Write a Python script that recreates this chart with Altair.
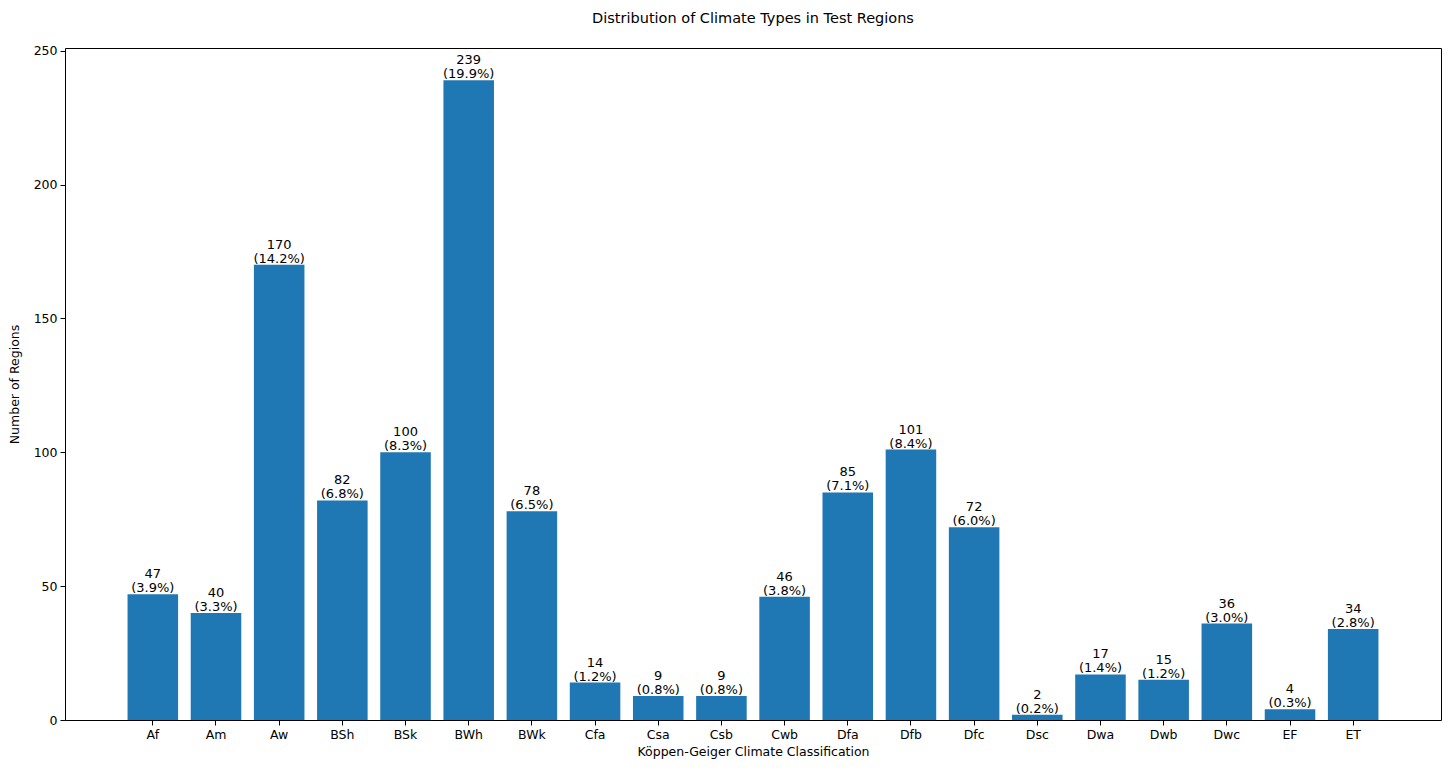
import altair as alt
import pandas as pd

categories = ["Af", "Am", "Aw", "BSh", "BSk", "BWh", "BWk", "Cfa", "Csa", "Csb",
              "Cwb", "Dfa", "Dfb", "Dfc", "Dsc", "Dwa", "Dwb", "Dwc", "EF", "ET"]
counts = [47, 40, 170, 82, 100, 239, 78, 14, 9, 9, 46, 85, 101, 72, 2, 17, 15, 36, 4, 34]
percents = ["3.9%", "3.3%", "14.2%", "6.8%", "8.3%", "19.9%", "6.5%", "1.2%", "0.8%", "0.8%",
            "3.8%", "7.1%", "8.4%", "6.0%", "0.2%", "1.4%", "1.2%", "3.0%", "0.3%", "2.8%"]

df = pd.DataFrame({"cat": categories, "count": counts, "pct": percents})
df["pct_label"] = "(" + df["pct"] + ")"
df["count_label"] = df["count"].astype(str)

FONT = "DejaVu Sans"

x = alt.X("cat:N", sort=categories,
          scale=alt.Scale(paddingInner=0.2, paddingOuter=0.99),
          axis=alt.Axis(title="Köppen-Geiger Climate Classification", labelAngle=0,
                        labelFontSize=12.5, titleFontSize=12.5, titleFontWeight="normal",
                        tickColor="black", domain=False, labelColor="black",
                        titleColor="black", tickSize=5, labelPadding=3, titlePadding=5))
y = alt.Y("count:Q", scale=alt.Scale(domain=[0, 251], nice=False),
          axis=alt.Axis(title="Number of Regions", values=[0, 50, 100, 150, 200, 250],
                        grid=False, labelFontSize=12.5, titleFontSize=12.5,
                        titleFontWeight="normal", tickColor="black", domain=False,
                        labelColor="black", titleColor="black", tickSize=5,
                        labelPadding=3, titlePadding=12))

xs = alt.X("cat:N", sort=categories)
bars = alt.Chart(df).mark_bar(color="#1f77b4").encode(x=x, y=y)
pct_text = alt.Chart(df).mark_text(baseline="alphabetic", fontSize=13, font=FONT,
                                   color="black", dy=-2).encode(
    x=xs, y="count:Q", text="pct_label:N")
cnt_text = alt.Chart(df).mark_text(baseline="alphabetic", fontSize=13, font=FONT,
                                   color="black", dy=-16).encode(
    x=xs, y="count:Q", text="count_label:N")

chart = (bars + pct_text + cnt_text).properties(
    width=1376, height=672,
    title=alt.TitleParams("Distribution of Climate Types in Test Regions",
                          fontSize=14.5, fontWeight="normal", font=FONT,
                          color="black", offset=18),
    autosize=alt.AutoSizeParams(type="none"),
    padding={"left": 57, "top": 40, "right": 7, "bottom": 44},
).configure(font=FONT).configure_view(stroke="black", strokeWidth=1)

chart.save("out.html", embed_options={"renderer": "svg", "actions": False})
